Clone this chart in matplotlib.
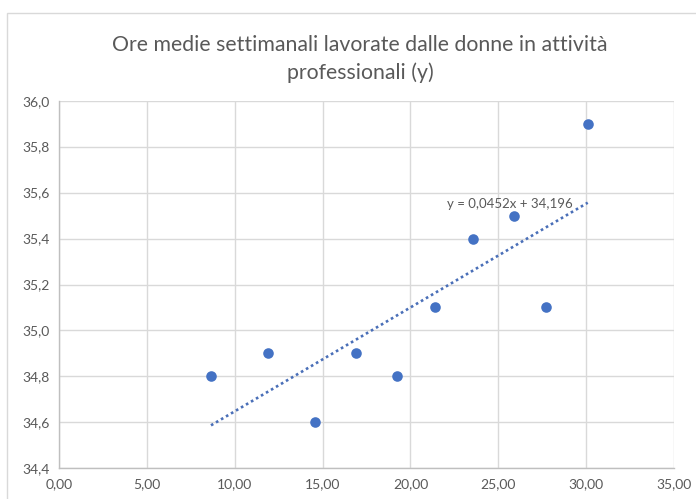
import matplotlib
matplotlib.use("Agg")
import matplotlib.pyplot as plt
from matplotlib.ticker import FuncFormatter, MultipleLocator
from matplotlib.patches import Rectangle

# Data
x_vals = [8.65, 11.89, 14.56, 16.89, 19.23, 21.39, 23.55, 25.88, 27.70, 30.09]
y_vals = [34.8, 34.9, 34.6, 34.9, 34.8, 35.1, 35.4, 35.5, 35.1, 35.9]
slope = 0.0452
intercept = 34.196
title = "Ore medie settimanali lavorate dalle donne in attività\nprofessionali (y)"

plt.rcParams['font.family'] = ['Lato', 'DejaVu Sans']

fig = plt.figure(figsize=(6.96, 4.99), dpi=100)
fig.patch.set_facecolor('white')

# chart frame
fig.patches.append(Rectangle((7 / 696, -0.05), 1.0, 1 - 13 / 499 + 0.05,
                             transform=fig.transFigure, fill=False,
                             edgecolor='#d9d9d9', linewidth=1.0))

ax = fig.add_axes([59 / 696, 1 - 468.3 / 499, (674 - 59) / 696, (468.3 - 100.7) / 499])
blue = '#4472C4'
grey_text = '#595959'

ax.scatter(x_vals, y_vals, s=58, color=blue, zorder=3, linewidths=0)

x0, x1 = min(x_vals), max(x_vals)
ax.plot([x0, x1], [slope * x0 + intercept, slope * x1 + intercept],
        linestyle=(0, (1, 1.2)), color='#4a6fb8', linewidth=1.9, zorder=2)

eq = "y = " + f"{slope:.4f}".replace('.', ',') + "x + " + f"{intercept:.3f}".replace('.', ',')
ax.text(25.65, 35.55, eq, fontsize=9.5, color=grey_text, ha='center', va='center')

ax.set_xlim(0, 35)
ax.set_ylim(34.4, 36.0)
ax.xaxis.set_major_locator(MultipleLocator(5))
ax.yaxis.set_major_locator(MultipleLocator(0.2))
ax.xaxis.set_major_formatter(FuncFormatter(lambda v, p: f"{v:.2f}".replace('.', ',')))
ax.yaxis.set_major_formatter(FuncFormatter(lambda v, p: f"{v:.1f}".replace('.', ',')))

ax.grid(True, color='#d9d9d9', linewidth=1.0)
ax.set_axisbelow(True)
for side in ['top', 'right']:
    ax.spines[side].set_visible(False)
for side in ['left', 'bottom']:
    ax.spines[side].set_color('#bfbfbf')
    ax.spines[side].set_linewidth(1.0)
ax.tick_params(length=0, labelsize=10, labelcolor=grey_text, pad=7)

fig.text(360 / 696, 1 - 59 / 499, title, ha='center', va='center',
         fontsize=15.3, color=grey_text, linespacing=1.4)

fig.savefig("out.png", dpi=100, facecolor='white')
